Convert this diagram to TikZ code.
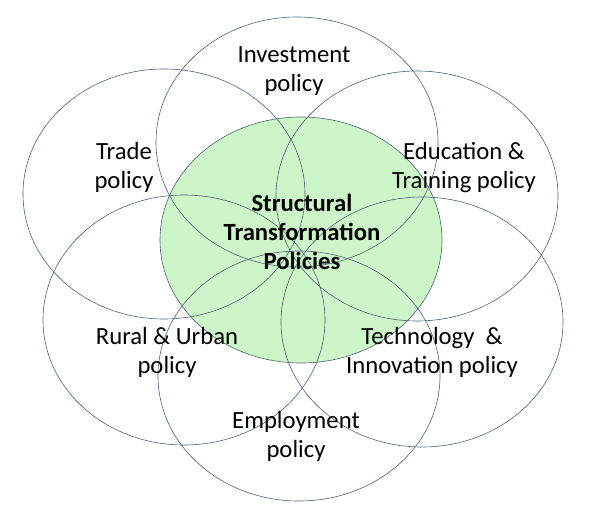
\documentclass[tikz,border=0pt]{standalone}
\usepackage{fontspec}
\setmainfont{Carlito}
\usetikzlibrary{shapes.geometric}
\definecolor{ringline}{RGB}{78,96,120}
\definecolor{corefill}{RGB}{204,246,200}
\tikzset{
    ring/.style = {draw=ringline, ellipse, line width=.6pt,
        minimum width=282pt,
        minimum height=250pt, inner sep=0pt},
    policytext/.style = {align=center, inner sep=0pt,
        font=\fontsize{24.7}{29}\selectfont}
}

\begin{document}
\begin{tikzpicture}[x=1pt,y=-1pt]
                \useasboundingbox (0,0) rectangle (609,518);
                \node[ring, fill=corefill, minimum height=246pt] (core) at (301,240) {};
                \node[ring] (invest) at (297,142) {};
                \node[ring] (trade) at (164,194) {};
                \node[ring] (educ) at (417,196) {};
                \node[ring] (rural) at (184,320) {};
                \node[ring] (tech) at (422,322) {};
                \node[ring] (employ) at (299,376) {};
                \node[policytext] (investtxt) at (294,71) {Investment\\policy};
                \node[policytext] (tradetxt) at (124,167) {Trade\\policy};
                \node[policytext] (eductxt) at (464,168) {Education \&\\Training policy};
                \node[policytext, font=\fontsize{24.7}{29}\selectfont\bfseries] (coretxt) at (302,232) {Structural\\Transformation\\Policies};
                \node[policytext] (ruraltxt) at (167,352) {Rural \& Urban\\policy};
                \node[policytext] (techtxt) at (432,352) {Technology\ \ \&\\Innovation policy};
                \node[policytext] (employtxt) at (296,436) {Employment\\policy};
            \end{tikzpicture}
\end{document}
